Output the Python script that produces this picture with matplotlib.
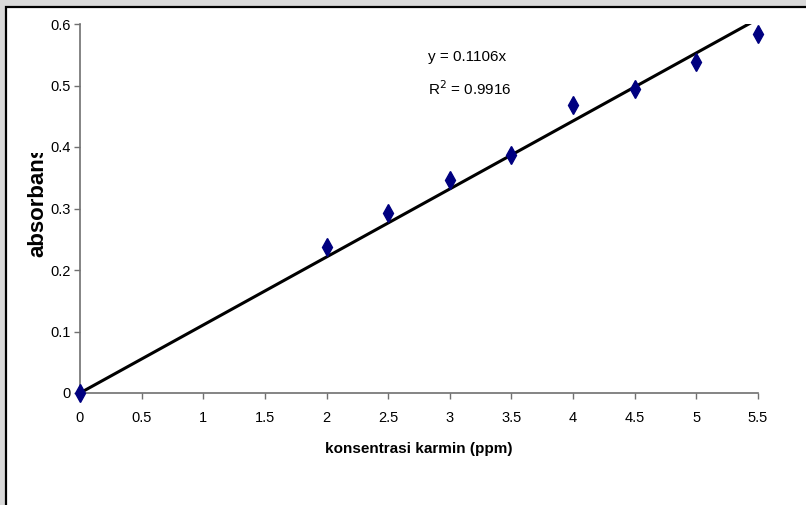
import numpy as np
import matplotlib
matplotlib.use("Agg")
import matplotlib.pyplot as plt
from matplotlib.patches import Rectangle
from matplotlib.transforms import Bbox

plt.rcParams['font.family'] = ['Liberation Sans Narrow', 'Liberation Sans', 'DejaVu Sans']

# data
konsentrasi = [0, 2, 2.5, 3, 3.5, 4, 4.5, 5, 5.5]
absorbans = [0, 0.237, 0.293, 0.347, 0.387, 0.469, 0.495, 0.538, 0.584]
slope = 0.1106
r2 = 0.9916
xticks = [0, 0.5, 1, 1.5, 2, 2.5, 3, 3.5, 4, 4.5, 5, 5.5]
yticks = [0, 0.1, 0.2, 0.3, 0.4, 0.5, 0.6]

W, H = 806, 505
fig = plt.figure(figsize=(W / 100, H / 100), dpi=100, facecolor='#d9d9d9')

# chart area frame (runs off the right and bottom edges)
frame = Rectangle((5.5 / W, -0.1), 1.2, 1 - 7 / H + 0.1, transform=fig.transFigure,
                  facecolor='white', edgecolor='black', linewidth=1.6, zorder=-5)
fig.patches.append(frame)

ax = fig.add_axes([80 / W, (H - 393) / H, (758 - 80) / W, (393 - 24) / H])
ax.set_zorder(2)
ax.set_facecolor('none')
ax.set_xlim(0, 5.5)
ax.set_ylim(0, 0.6)

xs = np.array([0, 5.5])
ax.plot(xs, slope * xs, color='black', linewidth=2.2, zorder=2)
ax.plot(konsentrasi, absorbans, linestyle='none', marker='d', markersize=9,
        color='#000080', zorder=3, clip_on=False)

for s in ['top', 'right']:
    ax.spines[s].set_visible(False)
for s in ['left', 'bottom']:
    ax.spines[s].set_color('#707070')
    ax.spines[s].set_linewidth(1.2)

ax.set_xticks(xticks)
ax.set_xticklabels([f'{v:g}' for v in xticks])
ax.set_yticks(yticks)
ax.set_yticklabels([f'{v:g}' for v in yticks])
ax.tick_params(direction='out', length=4, width=1, color='#707070',
               labelsize=10.5, pad=3)
ax.tick_params(axis='x', pad=9)

ax.set_xlabel('konsentrasi karmin (ppm)', fontsize=11, fontweight='bold', labelpad=12)

# y label is cut off at the top in the original
ylab = fig.text(38 / W, 1 - 257 / H, 'absorbans', rotation=90, fontsize=16,
                fontweight='bold', ha='center', va='bottom', zorder=3)
ylab.set_clip_box(Bbox.from_extents(0, 0, W, H - 153))
ylab.set_clip_on(True)

fig.text(428 / W, 1 - 57 / H, f'y = {slope}x', fontsize=11, va='center', ha='left', zorder=3)
fig.text(428 / W, 1 - 89 / H, f'R$^2$ = {r2}', fontsize=11, va='center', ha='left', zorder=3)

fig.savefig('out.png', dpi=100, facecolor=fig.get_facecolor())
